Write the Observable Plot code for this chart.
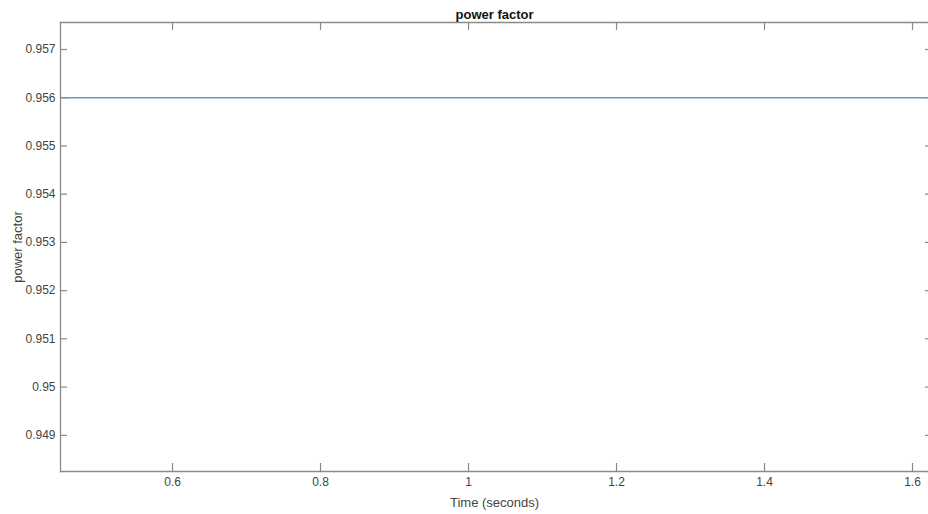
<!DOCTYPE html>
<html>
<head>
<meta charset="utf-8">
<script src="https://cdn.jsdelivr.net/npm/d3@7"></script>
<script src="https://cdn.jsdelivr.net/npm/@observablehq/plot@0.6"></script>
<style>
  html, body { margin: 0; padding: 0; background: #fff; overflow: hidden; }
  #chart svg { display: block; }
</style>
</head>
<body>
<div id="chart"></div>
<script>
const time = [0.45, 0.6, 0.8, 1.0, 1.2, 1.4, 1.6, 1.62];
const powerFactor = [0.956, 0.956, 0.956, 0.956, 0.956, 0.956, 0.956, 0.956];
const xTicks = [0.6, 0.8, 1.0, 1.2, 1.4, 1.6];
const xTickLabels = ["0.6", "0.8", "1", "1.2", "1.4", "1.6"];
const yTicks = [0.949, 0.950, 0.951, 0.952, 0.953, 0.954, 0.955, 0.956, 0.957];
const yTickLabels = ["0.949", "0.95", "0.951", "0.952", "0.953", "0.954", "0.955", "0.956", "0.957"];
const xDomain = [0.4486, 1.6216];
const yDomain = [0.94825, 0.95756];

const W = 928, H = 514;
const mL = 60, mR = 0, mT = 22, mB = 43;
const pw = W - mL - mR, ph = H - mT - mB;
const data = time.map((t, i) => ({t, v: powerFactor[i]}));
const axisColor = "#8a8a8a";
const textColor = "#444";

const chart = Plot.plot({
  width: W, height: H,
  marginLeft: mL, marginRight: mR, marginTop: mT, marginBottom: mB,
  style: {fontFamily: "'Liberation Sans', Arial, sans-serif", fontSize: "12px", background: "#fff"},
  x: {domain: xDomain},
  y: {domain: yDomain},
  marks: [
    Plot.frame({anchor: "top", stroke: axisColor, strokeWidth: 1.3}),
    Plot.frame({anchor: "bottom", stroke: axisColor, strokeWidth: 1.3}),
    Plot.frame({anchor: "left", stroke: axisColor, strokeWidth: 1.3}),
    // inward ticks, bottom & top
    Plot.tickX(xTicks, {x: d => d, stroke: axisColor, strokeWidth: 1.2, insetTop: ph - 8}),
    Plot.tickX(xTicks, {x: d => d, stroke: axisColor, strokeWidth: 1.2, insetBottom: ph - 8}),
    // inward ticks, left & right
    Plot.tickY(yTicks, {y: d => d, stroke: axisColor, strokeWidth: 1.2, insetRight: pw - 7}),
    Plot.tickY(yTicks, {y: d => d, stroke: axisColor, strokeWidth: 1.2, insetLeft: pw - 3}),
    Plot.axisX(xTicks, {anchor: "bottom", tickSize: 0, tickPadding: 6, tickFormat: (d, i) => xTickLabels[i], color: textColor, fontSize: 12, label: null}),
    Plot.axisY(yTicks, {anchor: "left", tickSize: 0, tickPadding: 5, tickFormat: (d, i) => yTickLabels[i], color: textColor, fontSize: 12, label: null}),
    Plot.line(data, {x: "t", y: "v", stroke: "#5a9bd0", strokeWidth: 1.3}),
    Plot.text(["power factor"], {frameAnchor: "top", lineAnchor: "middle", dy: -8, fontWeight: "bold", fontSize: 13, fill: "#111"}),
    Plot.text(["Time (seconds)"], {frameAnchor: "bottom", lineAnchor: "middle", dy: 31, fontSize: 13, fill: textColor}),
    Plot.text(["power factor"], {frameAnchor: "left", textAnchor: "middle", lineAnchor: "middle", dx: -43, rotate: -90, fontSize: 13, fill: textColor})
  ]
});
document.getElementById("chart").appendChild(chart);
</script>
</body>
</html>
